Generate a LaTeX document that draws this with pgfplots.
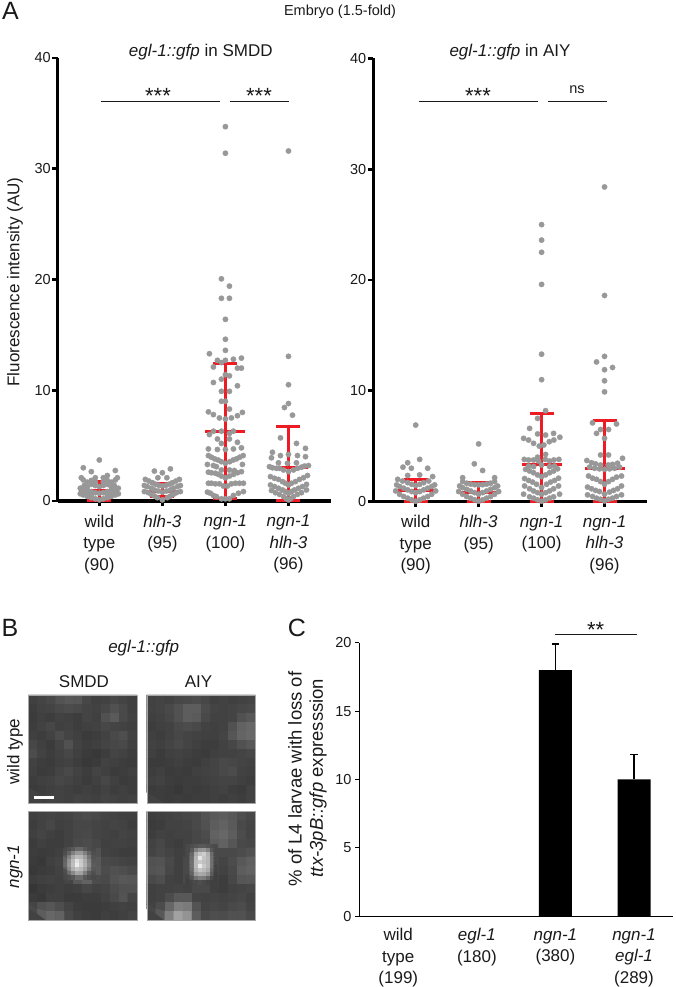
\documentclass[border=0pt]{standalone}
\usepackage{fontspec}
\setmainfont{Liberation Sans}
\usepackage{pgfplots}
\usepackage{pgfplotstable}
\pgfplotsset{compat=1.18}
\definecolor{dotgrey}{HTML}{989898}
\definecolor{barred}{HTML}{ED1C24}
\definecolor{txt}{HTML}{1A1A1A}
\definecolor{micbg}{HTML}{424242}
\newcommand{\lab}{\fontsize{14.5}{21}\selectfont}
\newcommand{\xlab}{\fontsize{17}{21.5}\selectfont}
\newcommand{\stars}{\fontsize{22}{22}\selectfont}

% swarm dots: d = offset from the category in px, v = value
\pgfplotstableread[row sep=crcr]{d v\\
0 3.7\\ -16 3.0\\ -8 2.65\\ 16 2.75\\ 8 2.3\\ -4 2.1\\ 4 2.1\\
-4 1.7\\ 4 1.7\\ -8 1.85\\ 8 1.85\\
0 1.3\\ -4 1.4\\ 4 1.4\\ -8 1.5\\ 8 1.5\\ -12 1.7\\ 12 1.7\\ -16 1.9\\ 16 1.9\\ -18 2.1\\ 18 2.1\\
-12 1.25\\ 12 1.25\\ -15 1.4\\ 15 1.4\\
0 .7\\ -4 .75\\ 4 .75\\ -8 .85\\ 8 .85\\ -12 .95\\ 12 .95\\ -16 1.05\\ 16 1.05\\ -19 1.15\\ 19 1.15\\
-8 .55\\ 8 .55\\ -12 .65\\ 12 .65\\ -15 .8\\ 15 .8\\
0 .1\\ -4 .2\\ 4 .2\\ -8 .3\\ 8 .3\\ -12 .42\\ 12 .42\\ -16 .55\\ 16 .55\\ -19 .65\\ 19 .65\\
}\lwt
\pgfplotstableread[row sep=crcr]{d v\\
-8 2.7\\ 0 2.55\\ 8 2.9\\ -4.5 2.1\\ 4.5 2.1\\
0 1.35\\ -3.5 1.42\\ 3.5 1.42\\ -7 1.52\\ 7 1.52\\ -10 1.65\\ 10 1.65\\ -13.5 1.8\\ 13.5 1.8\\ -17 1.95\\ 17 1.95\\
0 .8\\ -4 .9\\ 4 .9\\ -8 1.0\\ 8 1.0\\ -11 1.15\\ 11 1.15\\ -15 1.3\\ 15 1.3\\ -18 1.4\\ 18 1.4\\
0 .1\\ -5 .3\\ 5 .3\\ -8 .45\\ 8 .45\\ -11 .6\\ 11 .6\\ -14 .75\\ 14 .75\\ -18 .85\\ 18 .85\\
}\lhl
\pgfplotstableread[row sep=crcr]{d v\\
0 33.8\\ 0 31.4\\ -4 20.06\\ 4 19.4\\ -4 18.3\\ 4 18.3\\ 0 16.4\\ 0 14.6\\ 0 13.6\\ -16 13.3\\ -8 12.7\\ 0 12.7\\ 8 12.8\\ 16 12.9\\
-12 12.1\\ -4 12.5\\ 12 12.0\\ 16 12.0\\ 0 11.4\\ -4 11.0\\ 4 11.3\\ -12 10.7\\ 12 10.4\\ -4 9.9\\ 4 9.9\\ -4 9.0\\ 0 9.0\\ 4 8.3\\
-17 8.05\\ -12 7.8\\ 17 8.0\\ -6 7.5\\ 0 7.4\\ 6 7.5\\ 12 7.7\\ -16 6.0\\ -12 6.3\\ -4 6.3\\ 4 6.1\\ 8 6.3\\ -8 5.6\\ 4 5.6\\ 12 5.3\\ -4 5.2\\
-17 4.7\\ -8 4.65\\ 0 4.65\\ 8 4.7\\ 16 4.8\\
-17 4.1\\ -14 3.95\\ -10.7 3.8\\ -7.3 3.7\\ -4 3.55\\ 0 3.4\\ 4.3 3.55\\ 7.7 3.7\\ 11 3.8\\ 14.3 3.95\\ 17.7 4.1\\
-18 3.3\\ -12 3.2\\ -9 3.1\\ -4 2.8\\ 4 2.8\\ 9 2.75\\ 17 3.3\\
-17 2.6\\ -14 2.55\\ -10 2.5\\ -7 2.4\\ -4 2.25\\ 0 2.1\\ 4 2.25\\ 8 2.4\\ 12 2.55\\ 16 2.65\\
-17 1.6\\ -14 1.6\\ -10 1.55\\ -6 1.55\\ -2 1.35\\ 2 1.35\\ 6 1.55\\ 10 1.6\\ 14 1.6\\ 18 1.6\\
-18 .8\\ -15 .7\\ -12 .5\\ -9 .4\\ -4 .2\\ 0 .2\\ 4 .2\\ 8 .5\\ 13 .7\\ 18 .85\\
}\lng
\pgfplotstableread[row sep=crcr]{d v\\
0 31.6\\ 0 13.06\\ 0 10.5\\ 0 8.8\\ -4 8.44\\ 4 7.75\\ -8 5.7\\ 8 5.2\\ -16 4.4\\ -8 4.1\\ 17 4.75\\ 17 4.0\\ 9 4.1\\ 0 4.2\\ -17 3.9\\ -10 3.45\\ -1 3.4\\ 8 3.45\\
-19 3.1\\ -16 3\\ -12 2.95\\ -9 2.95\\ -5 2.8\\ 0 2.65\\ 5 2.8\\ 9 2.95\\ 13 3.05\\ 16 3.15\\ 20 3.2\\
-18 2.2\\ -14 2.05\\ -10 1.95\\ -6 1.75\\ -3 1.6\\ 0 1.45\\ 3 1.6\\ 7 1.75\\ 11 1.95\\ 15 2.1\\ 19 2.3\\
-18 1.45\\ -14 1.3\\ -10 1.15\\ -6 1.0\\ -3 .85\\ 0 .7\\ 3 .85\\ 6 1.0\\ 10 1.15\\ 14 1.3\\ 18 1.5\\
-17 .95\\ -13 .75\\ -9 .6\\ -5 .4\\ -2 .2\\ 2 .2\\ 5 .4\\ 9 .6\\ 13 .75\\ 18 1.0\\ 0 .1\\
}\lbo
\pgfplotstableread[row sep=crcr]{d v\\
0 6.9\\ 4 3.8\\ -8 3.5\\ -12.7 3.1\\ -4.3 3.0\\ 12 3.0\\ 4 2.4\\ -8 2.35\\ -18 2.0\\ 17 2.25\\
0 1.45\\ -4 1.55\\ 4 1.55\\ -8 1.7\\ 8 1.7\\ -13 1.85\\ 13 1.85\\
0 .8\\ -4 .9\\ 4 .9\\ -8 1.05\\ 8 1.05\\ -12 1.2\\ 12 1.2\\ -16 1.35\\ 16 1.35\\ -19 1.5\\ 19 1.5\\
0 .02\\ -4 .15\\ 4 .15\\ -8 .3\\ 8 .3\\ -12 .45\\ 12 .45\\ -16 .65\\ 16 .65\\ -20 .95\\ 20 .95\\
}\rwt
\pgfplotstableread[row sep=crcr]{d v\\
0 5.2\\ -4.3 3.4\\ 4 2.8\\ -16 2.15\\ 16 2.15\\
0 1.5\\ -4 1.52\\ 4 1.52\\ -8 1.57\\ 8 1.57\\ -12 1.65\\ 12 1.65\\ -16 1.8\\ 16 1.8\\
0 .66\\ -4 .8\\ 4 .8\\ -8 .95\\ 8 .95\\ -12 1.1\\ 12 1.1\\ -16 1.25\\ 16 1.25\\ -19 1.4\\ 19 1.4\\
0 .02\\ -4 .15\\ 4 .15\\ -8 .3\\ 8 .3\\ -12 .45\\ 12 .45\\ -16 .65\\ 16 .65\\ -20 .9\\ 20 .9\\
}\rhl
\pgfplotstableread[row sep=crcr]{d v\\
0 25\\ 0 23.6\\ 0 22.5\\ 0 19.6\\ 0 13.3\\ 0 11\\ 4 8.2\\ -4 7.5\\ -12 6.6\\ -4 6.1\\ 4 6\\ 12 6.15\\ -18 5.7\\ -13 5.55\\ -8 5.25\\ -2.3 5\\ 2.3 5.1\\ 7.7 5.4\\ 12.3 5.55\\ 18.3 5.8\\
4 4.25\\ -4 4\\ -17.3 3.8\\ -13 3.75\\ -8 3.75\\ -3 3.65\\ 3.7 3.8\\ 8 3.65\\ 12.3 3.75\\ 17.3 3.8\\
0 3.3\\ -8 3.15\\ 8 3.15\\ -13 3.2\\ 13 3.2\\
-16 2.9\\ -12 2.75\\ -8 2.6\\ -4 2.4\\ 0 2.25\\ 4 2.4\\ 8 2.6\\ 12 2.75\\ 16 2.95\\
-17 2.07\\ -13 1.9\\ -9 1.75\\ -5 1.55\\ 0 1.26\\ 5 1.55\\ 9 1.75\\ 13 1.9\\ 17 2.1\\
0 .66\\ -4 .8\\ 4 .8\\ -8 .95\\ 8 .95\\ -12 1.15\\ 12 1.15\\ -17 1.4\\ 17 1.4\\
0 .02\\ -4 .15\\ 4 .15\\ -8 .3\\ 8 .3\\ -12 .42\\ 12 .42\\ -18 .66\\ 18 .66\\
}\rng
\pgfplotstableread[row sep=crcr]{d v\\
0 28.4\\ 0 18.6\\ 0 13.1\\ -8 12.6\\ 8 12.1\\ 0 11.9\\ 0 10.9\\ 0 9.9\\ -12 7.1\\ 12 7.0\\ -4 6.5\\ 4 6.5\\ -8 6.15\\ 0 5.7\\ -4 4.2\\ 4 4.2\\
-17.7 3.7\\ 18 3.9\\ -13 3.5\\ -9 3.4\\ -4 3.3\\ 3.7 3.3\\ 8 3.35\\ 13 3.45\\
0 2.9\\ -5 2.95\\ 5 2.95\\ -10 3\\ 10 3\\ -15 3.1\\ 15 3.1\\
-16 2.3\\ -12 2.1\\ -8 2.0\\ -4 1.8\\ 0 1.55\\ 4 1.8\\ 8 2.0\\ 12 2.2\\ 17 2.3\\
-17 1.3\\ -13 1.15\\ -9 1.0\\ -5 .9\\ 0 .66\\ 5 .85\\ 9 1.0\\ 13 1.15\\ 17 1.4\\
0 .05\\ -4 .2\\ 4 .2\\ -8 .3\\ 8 .3\\ -12 .45\\ 12 .45\\ -17 .6\\ 17 .6\\
}\rbo

\pgfplotsset{
  swarm/.style={
    scale only axis, height=443pt, width=273.5pt,
    xmin=-41.6, xmax=231.7, ymin=0, ymax=40, clip=false,
    axis x line=bottom, axis y line=left, axis line style={-, line width=3.3pt, black},
    xtick={0,63,126,189}, ytick={0,10,20,30,40},
    tick style={black, line width=2.8pt}, tick align=outside, major tick length=5.5pt,
    /pgf/number format/assume math mode=true,
    yticklabel style={font=\lab, text=txt, xshift=2pt},
    xticklabel style={font=\xlab, text=txt, align=center, yshift=-5pt},
    xticklabels={{wild\\type\\(90)},{\textit{hlh-3}\\(95)},{\textit{ngn-1}\\(100)},{\textit{ngn-1}\\\textit{hlh-3}\\(96)}},
    unbounded coords=jump,
  },
  dots/.style={dotgrey, only marks, mark=*, mark size=2.7pt, mark options={draw=dotgrey, fill=dotgrey, line width=.3pt}},
  sd/.style={barred, line width=3pt},
  micro/.style={
    scale only axis, width=108.7pt, height=108.7pt, hide axis,
    xmin=0, xmax=108.7, ymin=0, ymax=108.7, clip=true,
    colormap/blackwhite, point meta min=0, point meta max=105,
  },
  base/.style={matrix plot*, mesh/cols=12, mesh/ordering=x varies, point meta=explicit},
}
\newcommand{\basegrid}[1]{\addplot[base] table[row sep=crcr, header=false, x expr={mod(\coordindex,12)*9.058+4.53}, y expr={104.17-floor(\coordindex/12)*9.058}, meta index=0]{#1};}

\begin{document}
\begin{tikzpicture}
\useasboundingbox (0,0) rectangle (675pt,987pt);

% backing for the micrographs
\fill[micbg] (28.3pt,183.3pt) rectangle ++(108.7pt,108.7pt);
\fill[micbg] (146.7pt,183.3pt) rectangle ++(108.7pt,108.7pt);
\fill[micbg] (28.3pt,66.7pt) rectangle ++(108.7pt,108.7pt);
\fill[micbg] (146.7pt,66.7pt) rectangle ++(108.7pt,108.7pt);

% A left
\begin{axis}[swarm, at={(57.7pt,486pt)}, anchor=south west]
\addplot[sd] coordinates {(-20,.93)(20,.93)(0,nan)(-12,1.8)(12,1.8)(0,nan)(-12,.05)(12,.05)(0,nan)(0,1.8)(0,.05)};
\addplot[sd] coordinates {(43,.9)(83,.9)(63,nan)(51,1.6)(75,1.6)(63,nan)(51,.45)(75,.45)(63,nan)(63,1.6)(63,.45)};
\addplot[sd] coordinates {(106,6.3)(146,6.3)(126,nan)(114,12.4)(138,12.4)(126,nan)(114,.2)(138,.2)(126,nan)(126,12.4)(126,.2)};
\addplot[sd] coordinates {(169,3)(209,3)(189,nan)(177,6.7)(201,6.7)(189,nan)(177,.05)(201,.05)(189,nan)(189,6.7)(189,.05)};
\addplot[dots] table[x expr=\thisrow{d},y=v] {\lwt};
\addplot[dots] table[x expr=\thisrow{d}+63,y=v] {\lhl};
\addplot[dots] table[x expr=\thisrow{d}+126,y=v] {\lng};
\addplot[dots] table[x expr=\thisrow{d}+189,y=v] {\lbo};
\end{axis}

% A right
\begin{axis}[swarm, at={(373.3pt,485.5pt)}, anchor=south west, xmin=-42.4, xmax=231.3]
\addplot[sd] coordinates {(-20,.96)(20,.96)(0,nan)(-12,2)(12,2)(0,nan)(-12,0)(12,0)(0,nan)(0,2)(0,0)};
\addplot[sd] coordinates {(43,.85)(83,.85)(63,nan)(51,1.7)(75,1.7)(63,nan)(51,0)(75,0)(63,nan)(63,1.7)(63,0)};
\addplot[sd] coordinates {(106,3.3)(146,3.3)(126,nan)(114,7.9)(138,7.9)(126,nan)(114,0)(138,0)(126,nan)(126,7.9)(126,0)};
\addplot[sd] coordinates {(169,2.94)(209,2.94)(189,nan)(177,7.27)(201,7.27)(189,nan)(177,0)(201,0)(189,nan)(189,7.27)(189,0)};
\addplot[dots] table[x expr=\thisrow{d},y=v] {\rwt};
\addplot[dots] table[x expr=\thisrow{d}+63,y=v] {\rhl};
\addplot[dots] table[x expr=\thisrow{d}+126,y=v] {\rng};
\addplot[dots] table[x expr=\thisrow{d}+189,y=v] {\rbo};
\end{axis}

% B micrographs, grey levels in percent, top row first
\begin{axis}[micro, at={(28.3pt,183.3pt)}, anchor=south west]
\basegrid{
26\\28\\30\\34\\36\\35\\29\\26\\27\\29\\28\\26\\
25\\27\\28\\30\\31\\30\\28\\27\\29\\33\\30\\26\\
24\\26\\25\\27\\26\\25\\28\\26\\33\\37\\30\\27\\
25\\27\\29\\26\\27\\25\\26\\27\\29\\28\\27\\26\\
26\\25\\27\\31\\28\\26\\24\\25\\27\\30\\32\\27\\
29\\26\\24\\28\\33\\27\\25\\26\\28\\29\\30\\26\\
31\\27\\25\\27\\29\\26\\24\\23\\25\\28\\27\\25\\
27\\25\\24\\26\\27\\25\\23\\24\\27\\26\\25\\24\\
26\\24\\25\\28\\30\\27\\25\\28\\26\\24\\25\\26\\
25\\26\\27\\29\\28\\26\\24\\26\\29\\26\\24\\25\\
24\\25\\26\\27\\26\\25\\26\\25\\27\\25\\26\\25\\
27\\26\\28\\27\\26\\28\\27\\26\\28\\27\\26\\27\\
}
\end{axis}
\begin{axis}[micro, at={(146.7pt,183.3pt)}, anchor=south west]
\basegrid{
27\\28\\27\\29\\30\\31\\29\\26\\27\\26\\27\\28\\
27\\28\\30\\33\\38\\38\\31\\28\\27\\28\\29\\30\\
26\\27\\29\\33\\38\\37\\30\\27\\27\\28\\33\\36\\
25\\26\\27\\30\\31\\30\\27\\26\\27\\33\\40\\42\\
26\\25\\27\\29\\28\\27\\26\\26\\28\\35\\41\\43\\
27\\26\\28\\30\\28\\26\\25\\25\\27\\29\\33\\36\\
26\\24\\26\\27\\26\\25\\24\\26\\27\\27\\28\\29\\
24\\24\\25\\26\\25\\24\\26\\28\\30\\29\\28\\27\\
25\\26\\24\\25\\24\\26\\27\\28\\30\\31\\27\\26\\
26\\27\\25\\24\\25\\25\\26\\27\\28\\28\\26\\25\\
24\\25\\24\\23\\25\\24\\25\\26\\27\\25\\24\\27\\
25\\25\\24\\25\\24\\25\\25\\26\\25\\26\\25\\27\\
}
\end{axis}
\begin{axis}[micro, at={(28.3pt,66.7pt)}, anchor=south west]
\basegrid{
26\\27\\28\\27\\28\\30\\31\\30\\28\\27\\26\\26\\
25\\27\\29\\26\\27\\29\\29\\28\\27\\28\\27\\25\\
26\\28\\26\\25\\27\\29\\30\\28\\27\\26\\28\\27\\
24\\26\\25\\25\\27\\30\\31\\29\\26\\27\\27\\26\\
25\\24\\25\\26\\28\\35\\40\\33\\27\\26\\25\\25\\
24\\23\\26\\28\\32\\50\\52\\36\\30\\29\\28\\27\\
23\\24\\25\\27\\31\\50\\52\\37\\31\\33\\32\\30\\
25\\26\\27\\26\\28\\36\\40\\31\\30\\34\\36\\35\\
22\\24\\25\\26\\25\\26\\29\\27\\28\\31\\33\\33\\
24\\23\\26\\26\\24\\24\\25\\25\\27\\30\\34\\28\\
28\\33\\35\\32\\28\\25\\24\\24\\25\\26\\27\\26\\
30\\38\\42\\40\\30\\26\\25\\24\\26\\25\\26\\28\\
}
\addplot[matrix plot*, mesh/cols=8, mesh/ordering=x varies, point meta=explicit] table[row sep=crcr, header=false, x expr={mod(\coordindex,8)*4+37}, y expr={70.7-floor(\coordindex/8)*4}, meta index=0]{
30\\32\\36\\42\\42\\36\\32\\30\\
32\\40\\52\\62\\62\\52\\40\\32\\
36\\52\\68\\76\\74\\64\\48\\34\\
40\\60\\76\\92\\82\\70\\54\\36\\
42\\62\\78\\96\\84\\72\\56\\38\\
38\\56\\72\\80\\76\\66\\50\\36\\
32\\44\\56\\68\\66\\52\\38\\32\\
30\\32\\36\\44\\44\\36\\32\\30\\
};
\end{axis}
\begin{axis}[micro, at={(146.7pt,66.7pt)}, anchor=south west]
\basegrid{
25\\26\\27\\28\\29\\30\\34\\37\\38\\36\\32\\29\\
24\\25\\27\\27\\28\\30\\33\\38\\40\\37\\30\\28\\
25\\27\\26\\27\\27\\29\\31\\40\\42\\38\\31\\28\\
27\\29\\26\\25\\27\\29\\30\\38\\40\\35\\30\\29\\
28\\30\\28\\26\\27\\45\\50\\30\\30\\30\\31\\33\\
33\\34\\30\\26\\30\\60\\60\\30\\28\\31\\36\\39\\
34\\35\\29\\26\\30\\60\\60\\30\\27\\30\\38\\40\\
30\\32\\27\\26\\30\\50\\50\\28\\25\\29\\35\\36\\
26\\27\\27\\28\\27\\30\\30\\26\\25\\27\\28\\29\\
26\\27\\31\\36\\36\\28\\27\\28\\27\\28\\29\\27\\
27\\31\\42\\52\\50\\34\\28\\29\\28\\30\\31\\28\\
29\\36\\52\\66\\60\\38\\30\\32\\31\\33\\33\\30\\
}
\addplot[matrix plot*, mesh/cols=8, mesh/ordering=x varies, point meta=explicit] table[row sep=crcr, header=false, x expr={mod(\coordindex,8)*4+41}, y expr={73.7-floor(\coordindex/8)*4}, meta index=0]{
30\\32\\34\\36\\36\\34\\32\\30\\
30\\36\\52\\60\\62\\54\\36\\30\\
30\\42\\70\\80\\84\\72\\44\\30\\
30\\44\\74\\94\\80\\74\\46\\30\\
30\\46\\76\\82\\78\\74\\46\\30\\
30\\46\\76\\96\\82\\74\\46\\28\\
30\\44\\72\\80\\76\\70\\42\\28\\
30\\40\\64\\70\\68\\60\\38\\26\\
28\\34\\46\\52\\50\\42\\30\\26\\
26\\28\\30\\32\\30\\28\\26\\26\\
};
\end{axis}

% C
\begin{axis}[scale only axis, width=314.3pt, height=273.6pt, at={(359pt,70.7pt)}, anchor=south west,
  xmin=0, xmax=4, ymin=0, ymax=20, clip=false,
  axis x line=bottom, axis y line=left, axis line style={-, line width=1pt, black},
  xtick={0.5,1.5,2.5,3.5}, minor xtick={0,1,2,3,4}, ytick={0,5,10,15,20},
  tick style={black, line width=.9pt}, tick align=outside, major tick length=4pt,
  x tick style={draw=none}, minor x tick style={black, line width=.9pt}, minor tick length=3.5pt,
  /pgf/number format/assume math mode=true,
  yticklabel style={font=\lab, text=txt},
  xticklabel style={font=\xlab, text=txt, align=center, yshift=-4.5pt},
  xticklabels={{wild\\type\\(199)},{\textit{egl-1}\\(180)},{\textit{ngn-1}\\(380)},{\textit{ngn-1}\\\textit{egl-1}\\(289)}},
  unbounded coords=jump,
]
\addplot[black, line width=1.2pt] coordinates {(2.5,18)(2.5,19.9)(2.45,nan)(2.452,19.9)(2.548,19.9)(3.5,nan)(3.5,10)(3.5,11.8)(3.45,nan)(3.452,11.8)(3.548,11.8)};
\addplot[ybar, bar width=33pt, fill=black, draw=none] coordinates {(0.5,0) (1.5,0) (2.5,18) (3.5,10)};
\end{axis}

% text and annotation in page pixels
\begin{scope}[x=1pt, y=-1pt, shift={(0pt,987pt)}, every node/.style={font=\xlab, text=txt, inner sep=0pt}]
\node[font=\fontsize{25}{25}\selectfont] at (10.5,11) {A};
\node[font=\fontsize{25}{25}\selectfont] at (10,628) {B};
\node[font=\fontsize{25}{25}\selectfont] at (297,628) {C};
\node[font=\lab] at (340,12) {Embryo (1.5-fold)};
\node at (200.8,52) {\textit{egl-1::gfp} in SMDD};
\node at (510,52) {\textit{egl-1::gfp} in AIY};
\node[rotate=90] at (15,282) {Fluorescence intensity (AU)};
\draw[txt, line width=1pt] (101,102) -- (220,102) (230,102) -- (288.7,102);
\draw[txt, line width=1pt] (418.7,102) -- (538,102) (548,102) -- (607,102);
\node[font=\stars] at (158,96) {***};
\node[font=\stars] at (259,96) {***};
\node[font=\stars] at (478,96) {***};
\node[font=\lab] at (577,90) {ns};
\node at (143.7,647.7) {\textit{egl-1::gfp}};
\node at (84,681.7) {SMDD};
\node at (198.5,681.7) {AIY};
\node[rotate=90] at (15,751.7) {wild type};
\node[rotate=90] at (15,866.7) {\textit{ngn-1}};
\fill[white] (34.3,796.2) rectangle (54.3,799.2);
\draw[gray!70, line width=.4pt] (28.3,695) rectangle (137,803.7) (146.7,695) rectangle (255.4,803.7)
  (28.3,811.7) rectangle (137,920.4) (146.7,811.7) rectangle (255.4,920.4);
\node[rotate=90, font=\fontsize{18.5}{20}\selectfont] at (295,779) {\% of L4 larvae with loss of};
\node[rotate=90, font=\fontsize{18.5}{20}\selectfont] at (318,778) {\textit{ttx-3pB::gfp} expresssion};
\draw[txt, line width=1pt] (555,634.3) -- (636.7,634.3);
\node[font=\stars] at (595.7,630) {**};
\end{scope}
\end{tikzpicture}
\end{document}
